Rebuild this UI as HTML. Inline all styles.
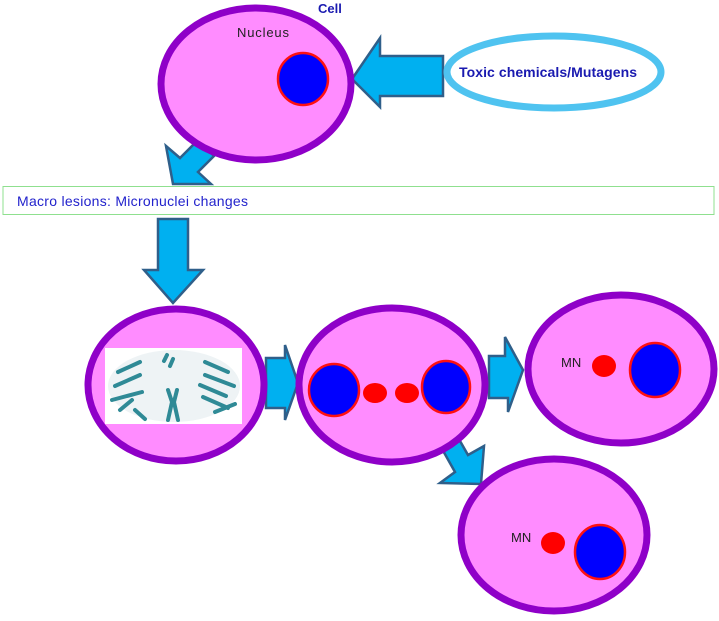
<!DOCTYPE html>
<html><head><meta charset="utf-8"><style>
html,body{margin:0;padding:0;background:#fff;}
svg{display:block;font-family:"Liberation Sans","DejaVu Sans",sans-serif;}
</style></head><body>
<svg width="719" height="621" viewBox="0 0 719 621">
<g fill="#00b0f0" stroke="#2f5f8a" stroke-width="2.5" stroke-linejoin="miter">
 <polygon points="352,79 380,38 380,56 443,56 443,96 380,96 380,107"/>
 <polygon points="166,146 180,158 198,140 214,156 198,172 211,184 173,184"/>
 <polygon points="158,219 188,219 188,270 203,270 173,303 144,270 158,270"/>
 <polygon points="266,358 285,358 285,345 298,383 285,420 285,408 266,408"/>
 <polygon points="489,356 505,356 505,337 523,370 508,412 508,398 489,398"/>
 <polygon points="437,440 456,434 468,455 484,446 481,484 440,483 455,472"/>
</g>
<g fill="#ff8cff" stroke="#8f00c8" stroke-width="7">
 <ellipse cx="256" cy="84" rx="95" ry="76"/>
 <ellipse cx="176" cy="385" rx="88" ry="76"/>
 <ellipse cx="392" cy="385" rx="93" ry="77"/>
 <ellipse cx="621" cy="369" rx="93" ry="74"/>
 <ellipse cx="554" cy="535" rx="93" ry="76"/>
</g>
<g fill="#0000ff" stroke="#ff1010" stroke-width="2.5">
 <ellipse cx="303" cy="79" rx="25" ry="26"/>
 <ellipse cx="334" cy="390" rx="25" ry="26"/>
 <ellipse cx="446" cy="387" rx="24" ry="26"/>
 <ellipse cx="655" cy="370" rx="25" ry="27"/>
 <ellipse cx="600" cy="552" rx="25" ry="27"/>
</g>
<g fill="#ff0000">
 <ellipse cx="375" cy="393" rx="12" ry="10"/>
 <ellipse cx="407" cy="393" rx="12" ry="10"/>
 <ellipse cx="604" cy="366" rx="12" ry="11"/>
 <ellipse cx="553" cy="543" rx="12" ry="11"/>
</g>
<g>
 <rect x="105" y="348" width="137" height="76" fill="#fff"/>
 <ellipse cx="174" cy="386" rx="66" ry="36" fill="#eef3f5"/>
 <g fill="none" stroke="#2f8a96" stroke-width="4" stroke-linecap="round">
  <path d="M118,372 L140,362 M115,386 L140,375 M112,400 L142,392 M120,410 L132,400 M135,410 L145,419"/>
  <path d="M205,362 L228,372 M205,375 L234,386 M200,385 L226,396 M203,397 L228,408 M215,412 L235,404"/>
  <path d="M164,361 L167,355 M170,366 L173,359"/>
  <path d="M168,390 L172,402 L168,420 M177,390 L174,402 L178,420"/>
 </g>
</g>
<ellipse cx="554" cy="72" rx="107" ry="36" fill="#fff" stroke="#4fc3f0" stroke-width="7"/>
<text x="459" y="77" font-size="14" font-weight="bold" fill="#1a1ab0" textLength="178">Toxic chemicals/Mutagens</text>
<text x="318" y="13" font-size="13" font-weight="bold" fill="#1a1ab0">Cell</text>
<text x="237" y="37" font-size="13" fill="#222" textLength="52">Nucleus</text>
<rect x="3" y="186.5" width="711" height="28" fill="#fff" stroke="#8fe08f" stroke-width="1"/>
<text x="17" y="206" font-size="14" fill="#2222cc" textLength="231">Macro lesions: Micronuclei changes</text>
<text x="561" y="367" font-size="13" fill="#222">MN</text>
<text x="511" y="542" font-size="13" fill="#222">MN</text>
</svg>
</body></html>
